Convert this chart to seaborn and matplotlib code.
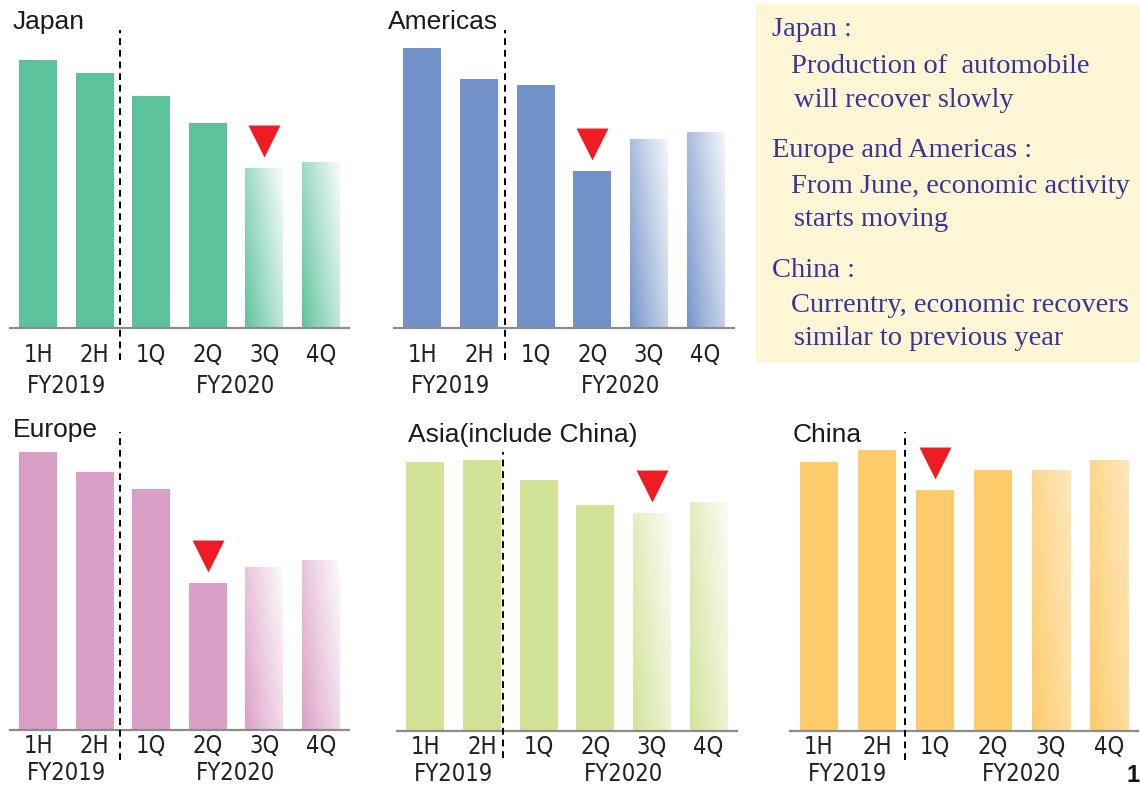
import numpy as np
import matplotlib
matplotlib.use("Agg")
import matplotlib.pyplot as plt
from matplotlib import font_manager
from matplotlib.colors import to_rgb
from matplotlib.patches import Rectangle
import seaborn as sns

# ---- data -------------------------------------------------------------
periods = ["1H", "2H", "1Q", "2Q", "3Q", "4Q"]
fiscal_years = ["FY2019", "FY2020"]

japan = [268, 255, 232, 205, 160, 166]
americas = [280, 249, 243, 157, 189, 196]
europe = [278, 258, 241, 147, 163, 170]
asia = [269, 271, 251, 226, 218, 229]
china = [269, 281, 241, 261, 261, 271]

region_names = ["Japan", "Americas", "Europe", "Asia(include China)", "China"]
region_values = [japan, americas, europe, asia, china]
bottom_period = ["3Q", "2Q", "2Q", "3Q", "1Q"]
outlook_periods = ["3Q", "4Q"]

notes = [
    ("Japan :", 0),
    ("Production of  automobile", 1),
    ("will recover slowly", 2),
    ("Europe and Americas :", 0),
    ("From June, economic activity", 1),
    ("starts moving", 2),
    ("China :", 0),
    ("Currentry, economic recovers", 1),
    ("similar to previous year", 2),
]

# ---- styling ----------------------------------------------------------
sns.set_style("white")
available = {f.name for f in font_manager.fontManager.ttflist}
narrow_family = "Liberation Sans Narrow" if "Liberation Sans Narrow" in available else "DejaVu Sans"
plt.rcParams["font.family"] = ["Liberation Sans", "DejaVu Sans"]

W, H = 1140, 787
fig = plt.figure(figsize=(W / 100, H / 100), dpi=100)


def px_rect(left, baseline, width, height=300):
    return [left / W, (H - baseline) / H, width / W, height / H]


def fade_image(color, strength, n=80):
    s = np.linspace(0, 1, n)
    gx, gy = np.meshgrid(s, s)
    t = np.clip(0.62 * gx + 0.38 * gy, 0, 1) ** 0.9 * strength
    base = np.array(to_rgb(color))
    return base[None, None, :] * (1 - t[..., None]) + t[..., None]


panels = [
    dict(left=10, base=328, width=339, color="#5BC29B", title=(13, 22), divider=1.45,
         span=(-0.107, 0.993), fade=0.95, tick_off=34, fy_off=65),
    dict(left=394, base=328, width=340, color="#7293CA", title=(388, 22), divider=1.46,
         span=(-0.107, 0.993), fade=0.92, tick_off=34, fy_off=65),
    dict(left=10, base=730, width=339, color="#DB9EC6", title=(13, 430), divider=1.45,
         span=(-0.10, 0.993), fade=0.95, tick_off=23, fy_off=50),
    dict(left=397, base=731, width=340, color="#D2E397", title=(408, 435), divider=1.37,
         span=(-0.09, 0.93), fade=0.9, tick_off=23, fy_off=50),
    dict(left=790, base=731, width=348, color="#FECB6A", title=(793, 435), divider=1.48,
         span=(-0.097, 0.997), fade=0.55, tick_off=23, fy_off=50),
]

axis_grey = "#8C8C8C"
label_kw = dict(family=narrow_family, fontstretch="condensed", fontsize=17, color="#222222")

for name, values, low, cfg in zip(region_names, region_values, bottom_period, panels):
    ax = fig.add_axes(px_rect(cfg["left"], cfg["base"], cfg["width"]))
    sns.barplot(x=periods, y=values, color=cfg["color"], saturation=1, width=0.67,
                linewidth=0, ax=ax)

    # outlook bars fade towards white
    for i, p in enumerate(periods):
        if p in outlook_periods:
            patch = ax.patches[i]
            x0, w, h = patch.get_x(), patch.get_width(), patch.get_height()
            patch.set_visible(False)
            ax.imshow(fade_image(cfg["color"], cfg["fade"]), extent=[x0, x0 + w, 0, h],
                      origin="lower", aspect="auto", interpolation="bilinear", zorder=2)

    ax.set_xlim(-0.5, len(periods) - 0.5)
    ax.set_ylim(0, 300)
    ax.set_ylabel("")
    ax.set_xlabel("")
    ax.set_yticks([])
    for side in ("left", "top", "right"):
        ax.spines[side].set_visible(False)
    ax.spines["bottom"].set_color(axis_grey)
    ax.spines["bottom"].set_linewidth(1.6)

    ax.set_xticks(np.arange(-0.5, len(periods), 1.0))
    ax.set_xticklabels([])
    ax.set_xticks(np.arange(len(periods)), minor=True)
    ax.set_xticklabels(periods, minor=True, **label_kw)
    ax.tick_params(axis="x", which="major", length=5, width=1.4, color=axis_grey, direction="out")
    ax.tick_params(axis="x", which="minor", length=0, pad=cfg["tick_off"] * 0.72)
    for lbl in ax.get_xticklabels(minor=True):
        lbl.set_verticalalignment("baseline")

    for fy, xc in zip(fiscal_years, (0.5, 3.5)):
        ax.annotate(fy, xy=(xc, 0), xycoords=("data", "axes fraction"),
                    xytext=(0, -cfg["fy_off"]), textcoords="offset pixels",
                    ha="center", va="baseline", annotation_clip=False, **label_kw)

    # boundary between fiscal years
    ax.axvline(cfg["divider"], ymin=cfg["span"][0], ymax=cfg["span"][1], color="black",
               lw=1.4, ls=(0, (3.5, 2.5)), clip_on=False, zorder=3)

    # marker over the weakest period
    k = periods.index(low)
    ax.plot(k, values[k] + 12 + 15.5, marker=[(-1, 1), (1, 1), (0, -1)], markersize=23,
            color="#EE1C25", markeredgewidth=0, clip_on=False, zorder=4)

    fig.text(cfg["title"][0] / W, 1 - cfg["title"][1] / H, name, ha="left", va="center",
             fontsize=19, color="#1A1A1A")

# ---- commentary box ----------------------------------------------------
fig.patches.append(Rectangle((756 / W, 1 - 362 / H), (W - 756) / W, (362 - 4) / H,
                             transform=fig.transFigure, facecolor="#FFF6D6",
                             edgecolor="none", zorder=0))
baselines = [36, 73, 107, 157, 193, 226, 277, 312, 345]
indents = {0: 772, 1: 791, 2: 794}
for (line, level), yb in zip(notes, baselines):
    fig.text(indents[level] / W, 1 - yb / H, line, ha="left", va="baseline",
             family=["Liberation Serif", "DejaVu Serif"], fontsize=20.5, color="#35369A")

fig.text(1127 / W, 1 - 782 / H, "1", ha="left", va="baseline", fontsize=17,
         fontweight="bold", color="#111111")

fig.savefig("out.png", dpi=100)
